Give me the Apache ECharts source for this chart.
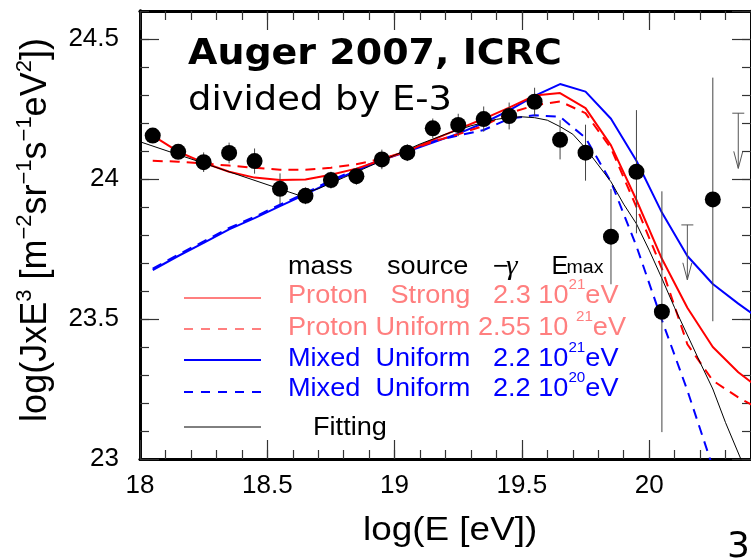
<!DOCTYPE html>
<html>
<head>
<meta charset="utf-8">
<script src="https://cdn.jsdelivr.net/npm/echarts@6/dist/echarts.min.js"></script>
<style>
html, body { margin: 0; padding: 0; background: #fff; }
#chart { width: 751px; height: 560px; }
</style>
</head>
<body>
<div id="chart"></div>
<script>
// Auger 2007 points: log(E), log(JxE^3), error half-width
const augerX = [18.05, 18.15, 18.25, 18.35, 18.45, 18.55, 18.65, 18.75, 18.85, 18.95, 19.05,
  19.15, 19.25, 19.35, 19.45, 19.55, 19.65, 19.75, 19.85, 19.95, 20.05, 20.25];
const augerY = [24.155, 24.097, 24.06, 24.093, 24.064, 23.965, 23.94, 23.996, 24.01, 24.07, 24.094,
  24.181, 24.193, 24.214, 24.225, 24.276, 24.14, 24.094, 23.794, 24.026, 23.526, 23.927];
const augerErr = [0.015, 0.02, 0.035, 0.037, 0.045, 0.055, 0.03, 0.03, 0.03, 0.035, 0.03,
  0.035, 0.04, 0.045, 0.048, 0.05, 0.07, 0.1, 0.17, 0.22, 0.43, 0.435];

// upper limits: x, cap, arrow tip
const limX = [20.15, 20.35];
const limTop = [23.836, 24.235];
const limTip = [23.64, 24.038];

// model curves (bin centres)
const modelX = [18.05, 18.15, 18.25, 18.35, 18.45, 18.55, 18.65, 18.75, 18.85, 18.95, 19.05, 19.15,
  19.25, 19.35, 19.45, 19.55, 19.65, 19.75, 19.85, 19.95, 20.05, 20.15, 20.25, 20.35, 20.45];
const protonStrong = [24.155, 24.098, 24.058, 24.026, 24.005, 23.996, 23.998, 24.015, 24.037, 24.068, 24.1, 24.14,
  24.178, 24.215, 24.255, 24.298, 24.307, 24.253, 24.12, 23.925, 23.715, 23.54, 23.4, 23.31, 23.24];
const protonUniform = [24.065, 24.062, 24.055, 24.048, 24.04, 24.033, 24.033, 24.04, 24.053, 24.072, 24.1, 24.133,
  24.16, 24.19, 24.235, 24.263, 24.277, 24.235, 24.11, 23.9, 23.68, 23.41, 23.28, 23.22, 23.17];
const mixed21 = [23.675, 23.725, 23.772, 23.82, 23.86, 23.903, 23.945, 23.99, 24.03, 24.068, 24.098, 24.13,
  24.162, 24.2, 24.245, 24.297, 24.339, 24.312, 24.215, 24.065, 23.88, 23.725, 23.625, 23.555, 23.49];
const mixed20 = [23.68, 23.73, 23.777, 23.825, 23.865, 23.908, 23.95, 23.995, 24.035, 24.07, 24.1, 24.135,
  24.155, 24.175, 24.215, 24.228, 24.222, 24.147, 23.99, 23.76, 23.496, 23.245, 22.97, 22.7, 22.45];

// fitting line
const fitX = [18.0, 18.62, 18.7, 18.8, 18.9, 19.0, 19.1, 19.2, 19.3, 19.4, 19.45, 19.5, 19.55, 19.6, 19.65,
  19.7, 19.75, 19.8, 19.85, 19.9, 19.95, 20.0, 20.05, 20.1, 20.15, 20.2, 20.25, 20.3, 20.36, 20.45];
const fitY = [24.133, 23.943, 23.965, 24.005, 24.045, 24.085, 24.125, 24.16, 24.19, 24.213, 24.22, 24.222, 24.219,
  24.21, 24.187, 24.16, 24.11, 24.05, 23.99, 23.91, 23.84, 23.746, 23.645, 23.54, 23.443, 23.345, 23.25, 23.13, 23.0, 22.82];

const pairs = (xs, ys) => xs.map((x, i) => [x, ys[i]]);

const chart = echarts.init(document.getElementById('chart'));

const FONT = 'Liberation Sans';
const axisLine = { show: true, lineStyle: { color: '#000', width: 2.8 } };
const tickStyle = { color: '#333', width: 1.2 };

function xAx(pos, interval, len, labels) {
  return {
    type: 'value', position: pos, min: 18, max: 20.4, interval: interval,
    axisLine: axisLine,
    axisTick: { show: true, inside: true, length: len, lineStyle: tickStyle },
    axisLabel: labels ? { show: true, fontSize: 26, fontFamily: FONT, color: '#000', margin: 14, showMaxLabel: false } : { show: false },
    splitLine: { show: false }
  };
}
function yAx(pos, interval, len, labels) {
  return {
    type: 'value', position: pos, min: 23, max: 24.6, interval: interval,
    axisLine: axisLine,
    axisTick: { show: true, inside: true, length: len, lineStyle: tickStyle },
    axisLabel: labels ? { show: true, fontSize: 26, fontFamily: FONT, color: '#000', margin: 21, showMaxLabel: false } : { show: false },
    splitLine: { show: false }
  };
}

function lineSeries(data, color, width, dashed, z) {
  return {
    type: 'line', data: data, showSymbol: false, symbol: 'none', clip: true, z: z,
    lineStyle: { color: color, width: width, type: dashed ? [10, 7] : 'solid' },
    silent: true
  };
}

// legend pieces
const legRich = {
  b: { fontSize: 25, fontFamily: FONT, lineHeight: 36, verticalAlign: 'middle' },
  s: { fontSize: 14, fontFamily: FONT, lineHeight: 18, verticalAlign: 'top' }
};
function legText(x, y, txt, color) {
  return {
    type: 'text', x: x, y: y, scaleX: 1.085,
    style: { text: txt, rich: legRich, fill: color, align: 'left', verticalAlign: 'middle', font: '25px ' + FONT }
  };
}
function plain(x, y, txt, font, color, sx) {
  return {
    type: 'text', x: x, y: y, scaleX: sx || 1.085,
    style: { text: txt, font: font, fill: color || '#000', align: 'left', verticalAlign: 'middle' }
  };
}
function legLine(y, color, width, dashed) {
  return {
    type: 'line', shape: { x1: 184, y1: y, x2: 261, y2: y },
    style: { stroke: color, lineWidth: width, lineDash: dashed ? [9, 8] : null }
  };
}

const lightRed = '#ff7f7f';
const blue = '#0000ff';

chart.setOption({
  animation: false,
  backgroundColor: '#fff',
  grid: { left: 140, top: 11, width: 616.1, height: 448 },
  xAxis: [xAx('bottom', 0.5, 19, true), xAx('bottom', 0.1, 9, false), xAx('top', 0.5, 19, false), xAx('top', 0.1, 9, false)],
  yAxis: [yAx('left', 0.5, 19, true), yAx('left', 0.1, 9, false), yAx('right', 0.5, 19, false), yAx('right', 0.1, 9, false)],
  series: [
    lineSeries(pairs(modelX, mixed21), blue, 2, false, 2),
    lineSeries(pairs(modelX, mixed20), blue, 2, true, 2),
    lineSeries(pairs(modelX, protonStrong), '#ff0000', 2, false, 2),
    lineSeries(pairs(modelX, protonUniform), '#ff0000', 2, true, 2),
    lineSeries(pairs(fitX, fitY), '#000', 1, false, 2),
    {
      type: 'custom', z: 3, clip: true, silent: true,
      data: augerX.map((x, i) => [x, augerY[i] - augerErr[i], augerY[i] + augerErr[i]]),
      renderItem: function (params, api) {
        const p1 = api.coord([api.value(0), api.value(1)]);
        const p2 = api.coord([api.value(0), api.value(2)]);
        return { type: 'line', shape: { x1: p1[0], y1: p1[1], x2: p2[0], y2: p2[1] }, style: { stroke: '#444', lineWidth: 1 } };
      }
    },
    {
      type: 'custom', z: 3, clip: true, silent: true,
      data: limX.map((x, i) => [x, limTop[i], limTip[i]]),
      renderItem: function (params, api) {
        const top = api.coord([api.value(0), api.value(1)]);
        const tip = api.coord([api.value(0), api.value(2)]);
        const st = { stroke: '#555', lineWidth: 1, fill: null };
        return {
          type: 'group', children: [
            { type: 'line', shape: { x1: top[0] - 6, y1: top[1], x2: top[0] + 6, y2: top[1] }, style: st },
            { type: 'line', shape: { x1: top[0], y1: top[1], x2: tip[0], y2: tip[1] }, style: st },
            { type: 'polyline', shape: { points: [[tip[0] - 4.5, tip[1] - 17], [tip[0], tip[1]], [tip[0] + 4.5, tip[1] - 17]] }, style: st }
          ]
        };
      }
    },
    {
      type: 'scatter', z: 4, silent: true, symbol: 'circle', symbolSize: 16,
      itemStyle: { color: '#000', opacity: 1 },
      data: pairs(augerX, augerY)
    }
  ],
  graphic: [
    plain(188, 54.6, 'Auger 2007, ICRC', 'bold 35px "DejaVu Sans"', '#000'),
    plain(188, 101.4, 'divided by E-3', '34px "DejaVu Sans"', '#000'),
    // legend header
    plain(288, 267.3, 'mass', '25px ' + FONT),
    plain(387, 267.3, 'source', '25px ' + FONT),
    plain(493, 267.3, '\u2212', '25px ' + FONT),
    plain(506, 267.3, '\u03b3', 'italic 27px "Liberation Serif"'),
    plain(551.5, 267.3, 'E', '25px ' + FONT, '#000', 1.0),
    plain(566.5, 268.4, 'max', '18px ' + FONT),
    // legend rows
    legLine(298, lightRed, 2, false),
    legText(288, 296.3, '{b|Proton   Strong   2.3 10}{s|21}{b|eV}', lightRed),
    legLine(329, lightRed, 2, true),
    legText(288, 328, '{b|Proton Uniform 2.55 10 }{s|21}{b|eV}', lightRed),
    legLine(360, blue, 2, false),
    legText(288, 359.6, '{b|Mixed  Uniform   2.2 10}{s|21}{b|eV}', blue),
    legLine(392, blue, 2, true),
    legText(288, 389.6, '{b|Mixed  Uniform   2.2 10}{s|20}{b|eV}', blue),
    legLine(427, '#000', 1, false),
    plain(313, 428, 'Fitting', '25px ' + FONT),
    // axis names
    plain(363, 531, 'log(E [eV])', '34px ' + FONT),
    {
      type: 'text', x: 36, y: 230, rotation: Math.PI / 2,
      style: {
        text: '{b|log(JxE}{s|3}{b| [m}{s|\u22122}{b|sr}{s|\u22121}{b|s}{s|\u22121}{b|eV}{s|2}{b|])}',
        rich: {
          b: { fontSize: 36, fontFamily: FONT, lineHeight: 44, verticalAlign: 'middle' },
          s: { fontSize: 22, fontFamily: FONT, lineHeight: 26, verticalAlign: 'top' }
        },
        fill: '#000', align: 'center', verticalAlign: 'middle', font: '36px ' + FONT
      }
    },
    plain(727, 548, '3', '36px "DejaVu Sans"', '#000', 1.0)
  ]
});
</script>
</body>
</html>
